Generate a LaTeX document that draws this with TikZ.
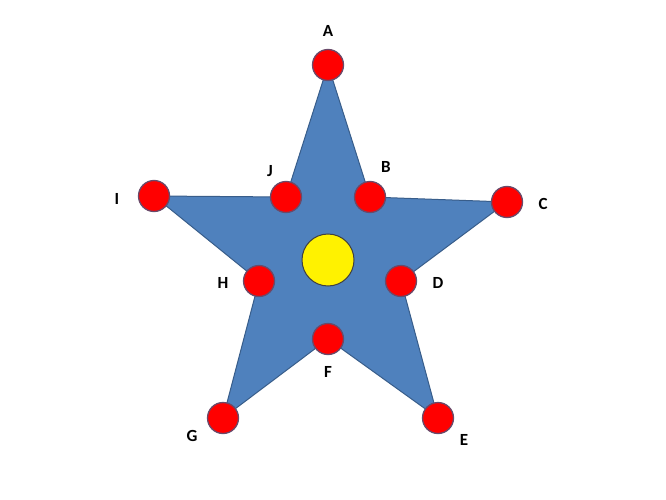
\documentclass[tikz,border=0pt]{standalone}
\usepackage{fontspec}
\setmainfont{Carlito}
\usepackage{xcolor}
\usepackage{tikz}
\usetikzlibrary{shapes}
\definecolor{starblue}{HTML}{4F81BD}
\definecolor{staredge}{HTML}{385D8A}
\definecolor{dotedge}{HTML}{6A4A6A}
\tikzset{
	tip node/.style={circle,draw=dotedge,fill=red,line width=1.3pt,minimum size=31pt,inner sep=0pt},
	centre node/.style={circle,draw=black!75,fill=yellow,line width=1pt,minimum size=52pt,inner sep=0pt},
	letter/.style={font=\fontsize{17}{17}\selectfont\bfseries,inner sep=0pt}
}

\begin{document}
\begin{tikzpicture}[x=1pt,y=-1pt]
	\useasboundingbox (0,0) rectangle (666,500);
	% points of the star
	\coordinate (a) at (328,65);
	\coordinate (b) at (370,197);
	\coordinate (c) at (507,202);
	\coordinate (d) at (401,281);
	\coordinate (e) at (438,418);
	\coordinate (f) at (328,339);
	\coordinate (g) at (223,418);
	\coordinate (h) at (259,281);
	\coordinate (i) at (154,196);
	\coordinate (j) at (286,197);
	\draw [fill=starblue,draw=staredge,line width=1pt,line join=miter]
		(a) -- (b) -- (c) -- (d) -- (e) -- (f) -- (g) -- (h) -- (i) -- (j) -- cycle;
	\node [centre node] (0) at (328,260) {};
	\foreach \p in {a,b,c,d,e,f,g,h,i,j}
		\node [tip node] (\p 1) at (\p) {};
	% letters
	\node [letter] (A) at (328,31) {A};
	\node [letter] (B) at (386,167) {B};
	\node [letter] (C) at (543,204) {C};
	\node [letter] (D) at (438,283) {D};
	\node [letter] (E) at (464,440) {E};
	\node [letter] (F) at (328,372) {F};
	\node [letter] (G) at (192,436) {G};
	\node [letter] (H) at (223,283) {H};
	\node [letter] (I) at (117,199) {I};
	\node [letter] (J) at (270,171) {J};
\end{tikzpicture}
\end{document}
